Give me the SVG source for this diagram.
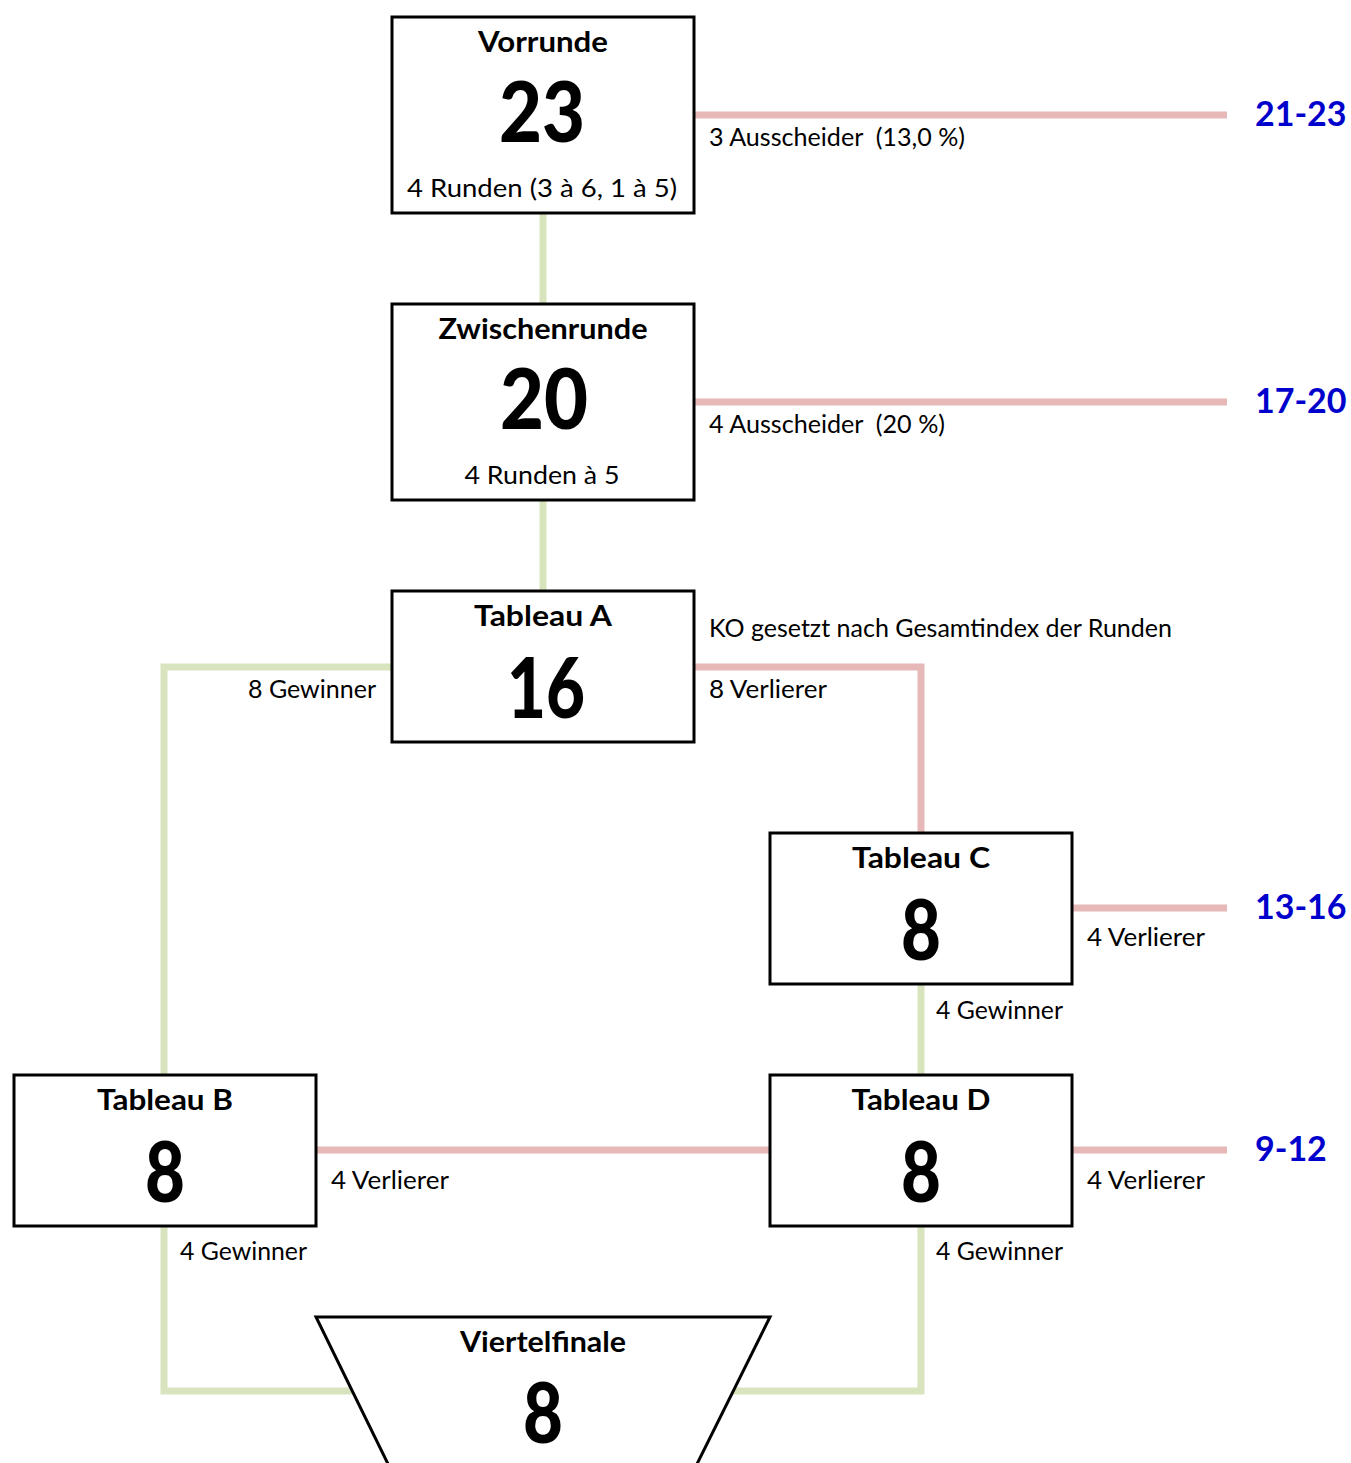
<svg xmlns="http://www.w3.org/2000/svg" width="1351" height="1463" viewBox="0 0 1351 1463">
<style>
.box{fill:#fff;stroke:#000;stroke-width:3}
.g{fill:none;stroke:#d7e4bd;stroke-width:7}
.r{fill:none;stroke:#e6b9b8;stroke-width:7}
.t{font-family:Lato,"Open Sans",sans-serif;font-weight:bold;font-size:28px;text-anchor:middle;fill:#000}
.n{font-family:Lato,"Open Sans",sans-serif;font-weight:900;font-size:84px;text-anchor:middle;fill:#000}
.l{font-family:Lato,"Open Sans",sans-serif;font-size:25px;fill:#000}
.e{text-anchor:end}
.m{text-anchor:middle}
.rg{font-family:Lato,"Open Sans",sans-serif;font-weight:bold;font-size:34px;fill:#0000cc}
</style>
<rect width="1351" height="1463" fill="#fff"/>
<g id="connectors">
<path class="g" d="M543,213 V303"/>
<path class="g" d="M543,500 V590"/>
<path class="g" d="M391,667 H164 V1075"/>
<path class="r" d="M694,667 H921 V832"/>
<path class="g" d="M921,984 V1075"/>
<path class="r" d="M316,1150 H769"/>
<path class="r" d="M694,115 H1227"/>
<path class="r" d="M694,402 H1227"/>
<path class="r" d="M1072,908 H1227"/>
<path class="r" d="M1072,1150 H1227"/>
<path class="g" d="M164,1226 V1391 H360"/>
<path class="g" d="M921,1226 V1391 H725"/>
</g>
<g id="vorrunde">
<rect class="box" x="392" y="17" width="302" height="196"/>
<text class="t" x="543" y="52" textLength="130" lengthAdjust="spacingAndGlyphs">Vorrunde</text>
<text class="n" x="542" y="142" textLength="86" lengthAdjust="spacingAndGlyphs">23</text>
<text class="l m" x="542" y="197" textLength="270" lengthAdjust="spacingAndGlyphs">4 Runden (3 à 6, 1 à 5)</text>
</g>
<g id="zwischenrunde">
<rect class="box" x="392" y="304" width="302" height="196"/>
<text class="t" x="543" y="339" textLength="209" lengthAdjust="spacingAndGlyphs">Zwischenrunde</text>
<text class="n" x="544" y="429" textLength="88" lengthAdjust="spacingAndGlyphs">20</text>
<text class="l m" x="542" y="484" textLength="155" lengthAdjust="spacingAndGlyphs">4 Runden à 5</text>
</g>
<g id="tableauA">
<rect class="box" x="392" y="591" width="302" height="151"/>
<text class="t" x="543" y="626" textLength="138" lengthAdjust="spacingAndGlyphs">Tableau A</text>
<text class="n" x="546" y="718" textLength="78" lengthAdjust="spacingAndGlyphs">16</text>
</g>
<g id="tableauC">
<rect class="box" x="770" y="833" width="302" height="151"/>
<text class="t" x="921" y="868" textLength="138" lengthAdjust="spacingAndGlyphs">Tableau C</text>
<text class="n" x="921" y="960" textLength="40" lengthAdjust="spacingAndGlyphs">8</text>
</g>
<g id="tableauB">
<rect class="box" x="14" y="1075" width="302" height="151"/>
<text class="t" x="165" y="1110" textLength="136" lengthAdjust="spacingAndGlyphs">Tableau B</text>
<text class="n" x="165" y="1202" textLength="40" lengthAdjust="spacingAndGlyphs">8</text>
</g>
<g id="tableauD">
<rect class="box" x="770" y="1075" width="302" height="151"/>
<text class="t" x="921" y="1110" textLength="139" lengthAdjust="spacingAndGlyphs">Tableau D</text>
<text class="n" x="921" y="1202" textLength="40" lengthAdjust="spacingAndGlyphs">8</text>
</g>
<g id="viertelfinale">
<path class="box" d="M389,1466 L316,1317 H770 L696,1466"/>
<text class="t" x="543" y="1352" textLength="166" lengthAdjust="spacingAndGlyphs">Viertelfinale</text>
<text class="n" x="543" y="1443" textLength="40" lengthAdjust="spacingAndGlyphs">8</text>
</g>
<g id="labels">
<text class="l" x="709" y="146" xml:space="preserve" textLength="256" lengthAdjust="spacingAndGlyphs">3 Ausscheider  (13,0 %)</text>
<text class="l" x="709" y="433" xml:space="preserve" textLength="236" lengthAdjust="spacingAndGlyphs">4 Ausscheider  (20 %)</text>
<text class="l" x="709" y="637" textLength="463" lengthAdjust="spacingAndGlyphs">KO gesetzt nach Gesamtindex der Runden</text>
<text class="l" x="709" y="698" textLength="118" lengthAdjust="spacingAndGlyphs">8 Verlierer</text>
<text class="l" x="248" y="698" textLength="128" lengthAdjust="spacingAndGlyphs">8 Gewinner</text>
<text class="l" x="1087" y="946" textLength="118" lengthAdjust="spacingAndGlyphs">4 Verlierer</text>
<text class="l" x="936" y="1019" textLength="127" lengthAdjust="spacingAndGlyphs">4 Gewinner</text>
<text class="l" x="331" y="1189" textLength="118" lengthAdjust="spacingAndGlyphs">4 Verlierer</text>
<text class="l" x="1087" y="1189" textLength="118" lengthAdjust="spacingAndGlyphs">4 Verlierer</text>
<text class="l" x="180" y="1260" textLength="127" lengthAdjust="spacingAndGlyphs">4 Gewinner</text>
<text class="l" x="936" y="1260" textLength="127" lengthAdjust="spacingAndGlyphs">4 Gewinner</text>
<text class="rg" x="1255" y="126">21-23</text>
<text class="rg" x="1255" y="413">17-20</text>
<text class="rg" x="1255" y="919">13-16</text>
<text class="rg" x="1255" y="1161">9-12</text>
</g>
</svg>
